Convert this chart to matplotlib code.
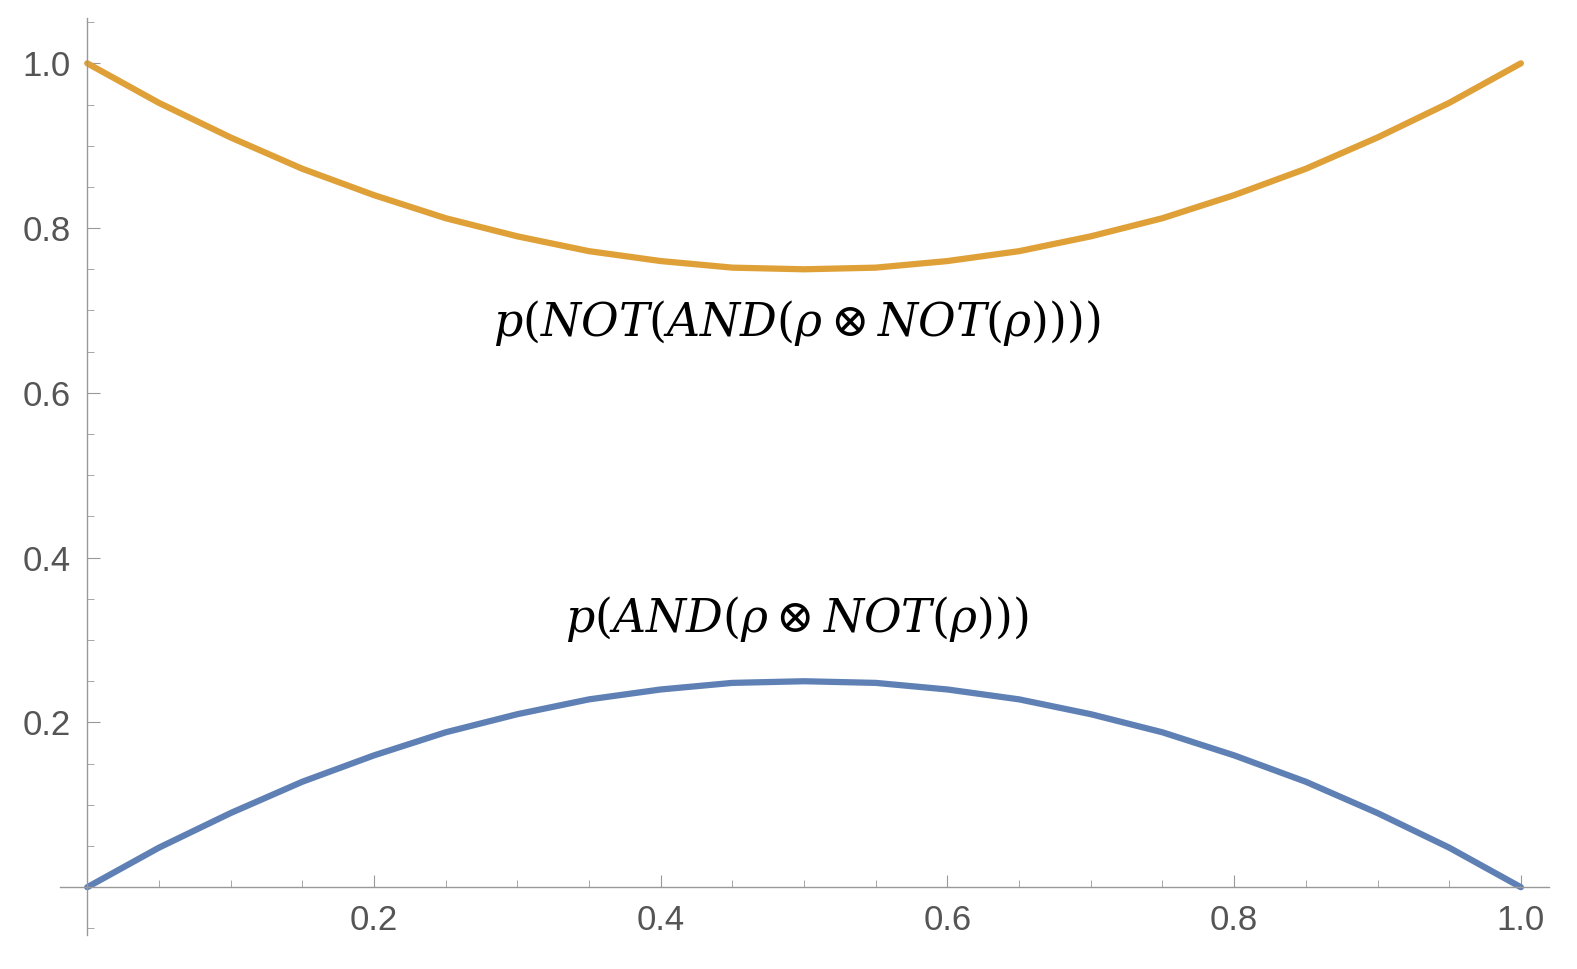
import numpy as np
import matplotlib.pyplot as plt
from matplotlib.ticker import MultipleLocator

# values at x = 0, 0.025, ..., 1
x_vals = [0.0, 0.025, 0.05, 0.075, 0.10, 0.125, 0.15, 0.175, 0.20, 0.225, 0.25,
          0.275, 0.30, 0.325, 0.35, 0.375, 0.40, 0.425, 0.45, 0.475, 0.50,
          0.525, 0.55, 0.575, 0.60, 0.625, 0.65, 0.675, 0.70, 0.725, 0.75,
          0.775, 0.80, 0.825, 0.85, 0.875, 0.90, 0.925, 0.95, 0.975, 1.0]
p_and = [0.0, 0.024, 0.048, 0.069, 0.09, 0.109, 0.128, 0.144, 0.16, 0.174, 0.188,
         0.199, 0.21, 0.219, 0.228, 0.234, 0.24, 0.244, 0.248, 0.249, 0.25,
         0.249, 0.248, 0.244, 0.24, 0.234, 0.228, 0.219, 0.21, 0.199, 0.188,
         0.174, 0.16, 0.144, 0.128, 0.109, 0.09, 0.069, 0.048, 0.024, 0.0]
p_not_and = [1.0, 0.976, 0.952, 0.931, 0.91, 0.891, 0.872, 0.856, 0.84, 0.826, 0.812,
             0.801, 0.79, 0.781, 0.772, 0.766, 0.76, 0.756, 0.752, 0.751, 0.75,
             0.751, 0.752, 0.756, 0.76, 0.766, 0.772, 0.781, 0.79, 0.801, 0.812,
             0.826, 0.84, 0.856, 0.872, 0.891, 0.91, 0.931, 0.952, 0.976, 1.0]
x_ticks = [0.2, 0.4, 0.6, 0.8, 1.0]
y_ticks = [0.2, 0.4, 0.6, 0.8, 1.0]

plt.rcParams["mathtext.fontset"] = "dejavuserif"

fig = plt.figure(figsize=(15.77, 9.69), dpi=100)
ax = fig.add_axes([60 / 1577, 34 / 969, 1489 / 1577, 917 / 969])

ax.plot(x_vals, p_not_and, color="#DFA037", linewidth=4.5, solid_capstyle="round")
ax.plot(x_vals, p_and, color="#5F80B4", linewidth=4.5, solid_capstyle="round")

ax.set_xlim(-0.019, 1.0196)
ax.set_ylim(-0.058, 1.055)

for s in ["top", "right"]:
    ax.spines[s].set_visible(False)
for s in ["left", "bottom"]:
    ax.spines[s].set_position(("data", 0))
    ax.spines[s].set_color("#999999")
    ax.spines[s].set_linewidth(1)

ax.set_xticks(x_ticks)
ax.set_yticks(y_ticks)
ax.set_xticklabels([f"{t:.1f}" for t in x_ticks], family="Liberation Sans")
ax.set_yticklabels([f"{t:.1f}" for t in y_ticks], family="Liberation Sans")
ax.xaxis.set_minor_locator(MultipleLocator(0.05))
ax.yaxis.set_minor_locator(MultipleLocator(0.05))
ax.tick_params(which="major", direction="in", length=9, color="#999999",
               labelsize=25, labelcolor="#555555", pad=12)
ax.tick_params(which="minor", direction="in", length=5, color="#999999")

tfont = dict(fontsize=33, ha="center", va="center", color="black")
ax.text(0.495, 0.685, r"$p(NOT(AND(\rho\otimes NOT(\rho))))$", **tfont)
ax.text(0.495, 0.325, r"$p(AND(\rho\otimes NOT(\rho)))$", **tfont)

fig.savefig("out.png", dpi=100)
